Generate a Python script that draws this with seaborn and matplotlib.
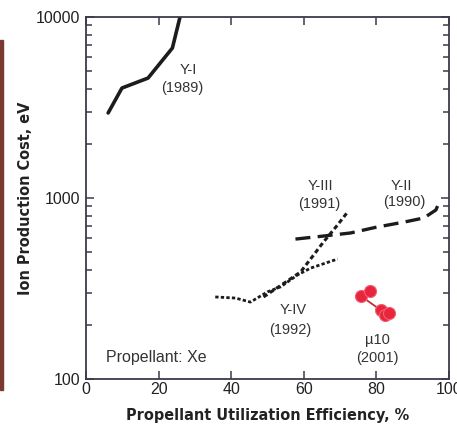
import matplotlib
matplotlib.use("Agg")
import matplotlib.pyplot as plt
import matplotlib.patches as mpatches
import seaborn as sns
import numpy as np
from matplotlib.ticker import FixedLocator, LogLocator, NullFormatter, FixedFormatter

sns.set_style("ticks")
plt.rcParams['font.family'] = ['Liberation Sans', 'DejaVu Sans']

# ---- data ----
yi_x = [6.1, 9.9, 17.1, 23.8, 25.9]
yi_y = [2950, 4050, 4600, 6740, 10000]

yii_x = [57.7, 65.0, 72.9, 80.0, 87.6, 93.1, 96.4, 97.3]
yii_y = [593, 615, 641, 690, 736, 776, 859, 950]

yiii_x = [48.9, 55.0, 59.1, 62.7, 65.2, 69.3, 72.1]
yiii_y = [284, 343, 390, 484, 564, 710, 838]

yiv_x = [35.6, 41.2, 45.3, 50.0, 53.6, 58.3, 61.9, 69.3]
yiv_y = [284, 280, 266, 303, 323, 376, 410, 460]

mu_x = [75.7, 78.2, 81.2, 82.3, 83.4]
mu_y = [288, 306, 240, 226, 232]
mu_line_x = [75.7, 81.2]
mu_line_y = [288, 240]

labels = [
    ("Y-I", 28.2, 5100), ("(1989)", 26.5, 4050),
    ("Y-III", 64.6, 1164), ("(1991)", 64.3, 926),
    ("Y-II", 87.0, 1164), ("(1990)", 87.8, 950),
    ("Y-IV", 57.2, 240), ("(1992)", 56.4, 187),
    ("\u00b510", 80.4, 164), ("(2001)", 80.4, 131),
]

fig = plt.figure(figsize=(4.57, 4.30), dpi=100)
ax = fig.add_axes([86/457, 1-379/430, 363/457, 362/430])

ink = "#1c1c1c"
sns.lineplot(x=yi_x, y=yi_y, ax=ax, color=ink, lw=2.6, sort=False, solid_capstyle='round')
sns.lineplot(x=yii_x, y=yii_y, ax=ax, color=ink, lw=2.4, sort=False,
             linestyle=(0, (4.5, 2.2)))
sns.lineplot(x=yiii_x, y=yiii_y, ax=ax, color=ink, lw=2.2, sort=False,
             linestyle=(0, (1.5, 1.0)))
sns.lineplot(x=yiv_x, y=yiv_y, ax=ax, color=ink, lw=2.0, sort=False,
             linestyle=(0, (1.2, 0.8)))
sns.lineplot(x=mu_line_x, y=mu_line_y, ax=ax, color="#c0303a", lw=1.3, sort=False)
sns.scatterplot(x=mu_x, y=mu_y, ax=ax, color="#e8253c", s=75, edgecolor="#f06070",
                linewidth=0.8, zorder=5)

ax.set_yscale('log')
ax.set_xlim(0, 100)
ax.set_ylim(100, 10000)

ax.xaxis.set_major_locator(FixedLocator([0, 20, 40, 60, 80, 100]))
ax.set_xticklabels(["0", "20", "40", "60", "80", "100"])
ax.yaxis.set_major_locator(FixedLocator([100, 1000, 10000]))
ax.yaxis.set_major_formatter(FixedFormatter(["100", "1000", "10000"]))
ax.yaxis.set_minor_locator(LogLocator(base=10, subs=np.arange(2, 10)))
ax.yaxis.set_minor_formatter(NullFormatter())

spine_c = "#3a3a4a"
for s in ax.spines.values():
    s.set_visible(True)
    s.set_color(spine_c)
    s.set_linewidth(1.3)

ax.tick_params(axis='both', which='both', direction='in', top=True, right=True,
               color=spine_c, width=1.1)
ax.tick_params(axis='both', which='major', length=6, labelsize=11.5, labelcolor="#222222")
ax.tick_params(axis='y', which='minor', length=4)
ax.tick_params(axis='x', pad=2)
ax.tick_params(axis='y', pad=4)

lab_font = dict(family='DejaVu Sans', stretch='condensed', weight='bold', size=11.6)
ax.set_xlabel("Propellant Utilization Efficiency, %", fontdict=lab_font,
              color="#222222", labelpad=8)
ax.set_ylabel("Ion Production Cost, eV", fontdict=lab_font,
              color="#222222", labelpad=2)

for txt, x, y in labels:
    ax.text(x, y, txt, ha='center', va='center', fontsize=10.5, color="#333333")

ax.text(5.5, 132, "Propellant: Xe", ha='left', va='center', fontsize=11.5, color="#333333")

# scanned edge strip on the left of the reference
fig.patches.append(mpatches.Rectangle((0, 40/430), 2.5/457, 350/430, transform=fig.transFigure,
                                      color="#7a3a32", zorder=-1))

fig.savefig("out.png", dpi=100)
